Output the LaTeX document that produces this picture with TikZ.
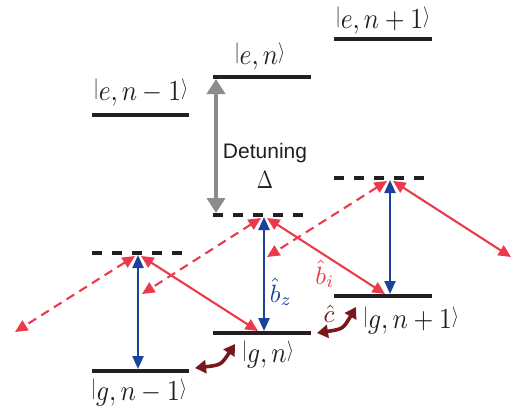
\documentclass[tikz,border=0pt]{standalone}
\usepackage{graphicx}
\usepackage{fontspec}
\newfontfamily\sansf{Liberation Sans}
\usetikzlibrary{arrows.meta}
\definecolor{lvlblack}{RGB}{35,31,32}
\definecolor{myred}{RGB}{234,58,76}
\definecolor{myblue}{RGB}{28,66,156}
\definecolor{mydark}{RGB}{120,24,30}
\definecolor{mygray}{RGB}{140,140,140}
\newcommand{\mket}[1]{\raisebox{0.18em}{\scalebox{0.72}{$|$}}#1\raisebox{0.18em}{\scalebox{0.72}{$\rangle$}}}
\newcommand{\bigket}[1]{\scalebox{2.55}[2.9]{$\mket{#1}$}}
\newcommand{\bigop}[1]{\scalebox{2.5}{$#1$}}
\begin{document}
\begin{tikzpicture}[x=1pt,y=-1pt,
  level/.style={draw=lvlblack,line width=3.3pt},
  virt/.style={draw=lvlblack,line width=3.3pt,dash pattern=on 10pt off 10pt},
  ket/.style={text=lvlblack,inner sep=0pt,anchor=base},
  oplabel/.style={inner sep=0pt,anchor=base},
  bluearr/.style={draw=myblue,line width=2.3pt,{Triangle[length=13pt,width=11pt]}-{Triangle[length=13pt,width=11pt]}},
  redarr/.style={draw=myred,line width=2.1pt,{Triangle[length=12.5pt,width=11.5pt]}-{Triangle[length=12.5pt,width=11.5pt]}},
  reddash/.style={redarr,dash pattern=on 9pt off 6pt},
  darkarr/.style={draw=mydark,line width=3.6pt,{Triangle[length=11pt,width=13pt]}-{Triangle[length=11pt,width=13pt]}},
  grayarr/.style={draw=mygray,line width=4.5pt,{Triangle[length=15pt,width=18pt]}-{Triangle[length=15pt,width=18pt]}}
]
\useasboundingbox (0,0) rectangle (521,416);

% excited levels
\draw[level] (92,115) coordinate (eLa) -- (189,115) coordinate (eLb);
\draw[level] (213,77) coordinate (eMa) -- (311,77) coordinate (eMb);
\draw[level] (334,39) coordinate (eRa) -- (432,39) coordinate (eRb);
% virtual levels
\draw[virt] (92,253) coordinate (vLa) -- (183,253) coordinate (vLb);
\draw[virt] (213,215) coordinate (vMa) -- (304,215) coordinate (vMb);
\draw[virt] (334,178) coordinate (vRa) -- (425,178) coordinate (vRb);
% ground levels
\draw[level] (92,371) coordinate (gLa) -- (189,371) coordinate (gLb);
\draw[level] (213,333) coordinate (gMa) -- (311,333) coordinate (gMb);
\draw[level] (334,296) coordinate (gRa) -- (432,296) coordinate (gRb);

% labels
\node[ket] (leL) at (141,100) {\bigket{e,n-1}};
\node[ket] (leM) at (260,64) {\bigket{e,n}};
\node[ket] (leR) at (383,28) {\bigket{e,n+1}};
\node[ket] (lgL) at (139,400) {\bigket{g,n-1}};
\node[ket] (lgM) at (268,362) {\bigket{g,n}};
\node[ket] (lgR) at (411,328) {\bigket{g,n+1}};

% detuning
\coordinate (gtop) at (216,79);
\coordinate (gbot) at (216,213);
\draw[grayarr] (gtop) -- (gbot);
\node[oplabel,font=\sansf\fontsize{21}{24}\selectfont,text=lvlblack] (det) at (265,158) {Detuning};
\node[oplabel,text=lvlblack] (delta) at (265,188) {\scalebox{1.95}[2.5]{$\Delta$}};

% blue arrows
\coordinate (bLt) at (138,255); \coordinate (bLb) at (138,369);
\coordinate (bMt) at (264,217); \coordinate (bMb) at (264,331);
\coordinate (bRt) at (390,180); \coordinate (bRb) at (390,294);
\draw[bluearr] (bLt) -- (bLb);
\draw[bluearr] (bMt) -- (bMb);
\draw[bluearr] (bRt) -- (bRb);

% red solid arrows
\coordinate (s1a) at (141,256); \coordinate (s1b) at (258,331);
\coordinate (s2a) at (267,218); \coordinate (s2b) at (385,294);
\coordinate (s3a) at (393,181); \coordinate (s3b) at (511,257);
\draw[redarr] (s1a) -- (s1b);
\draw[redarr] (s2a) -- (s2b);
\draw[redarr] (s3a) -- (s3b);

% red dashed arrows
\coordinate (d1a) at (135,256); \coordinate (d1b) at (15,332);
\coordinate (d2a) at (261,218); \coordinate (d2b) at (142,294);
\coordinate (d3a) at (387,181); \coordinate (d3b) at (267,257);
\draw[reddash] (d1a) -- (d1b);
\draw[reddash] (d2a) -- (d2b);
\draw[reddash] (d3a) -- (d3b);

% operator labels
\node[oplabel,text=myblue] (bz) at (281,302) {\bigop{\hat{b}_z}};
\node[oplabel,text=myred] (bi) at (325,284) {\bigop{\hat{b}_i}};
\node[oplabel,text=mydark] (cc) at (329,322) {\bigop{\hat{c}}};

% dark curved arrows
\coordinate (cAa) at (195,368); \coordinate (cAb) at (235,344);
\coordinate (cBa) at (317,333); \coordinate (cBb) at (356,307);
\draw[darkarr] (cAa) .. controls (221,365) .. (cAb);
\draw[darkarr] (cBa) .. controls (343,329) .. (cBb);
\end{tikzpicture}
\end{document}
